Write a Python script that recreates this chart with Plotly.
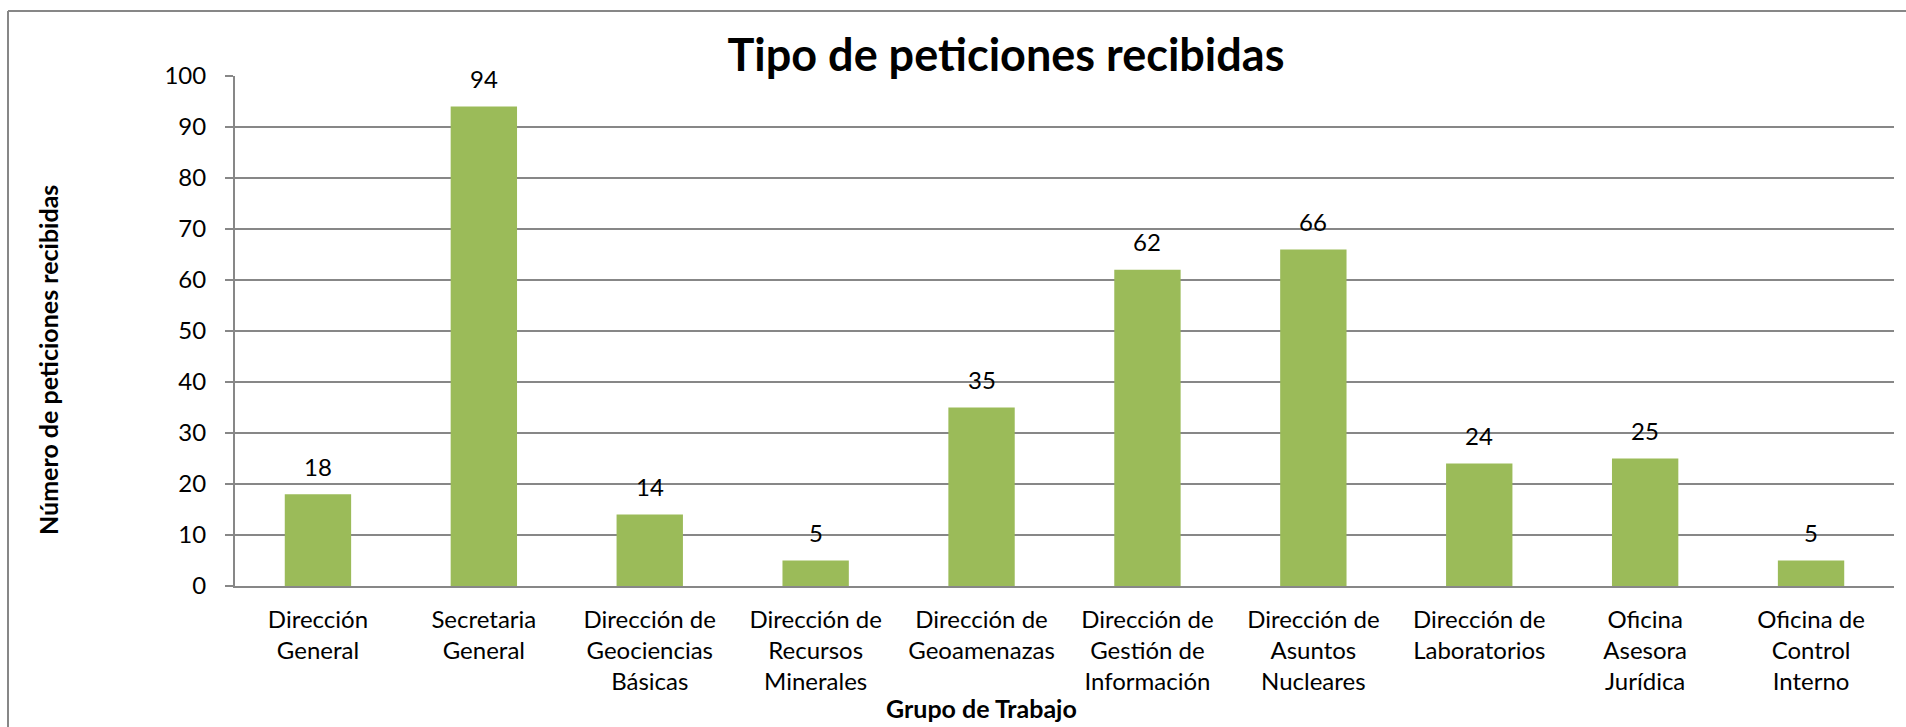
import plotly.graph_objects as go

categories = [
    "Dirección<br>General",
    "Secretaria<br>General",
    "Dirección de<br>Geociencias<br>Básicas",
    "Dirección de<br>Recursos<br>Minerales",
    "Dirección de<br>Geoamenazas",
    "Dirección de<br>Gestión de<br>Información",
    "Dirección de<br>Asuntos<br>Nucleares",
    "Dirección de<br>Laboratorios",
    "Oficina<br>Asesora<br>Jurídica",
    "Oficina de<br>Control<br>Interno",
]
values = [18, 94, 14, 5, 35, 62, 66, 24, 25, 5]
y_ticks = [0, 10, 20, 30, 40, 50, 60, 70, 80, 90, 100]

FONT = "Lato"
GRID = "#878787"
BAR = "#9BBB59"

fig = go.Figure()
fig.add_trace(go.Bar(
    x=categories, y=values, marker=dict(color=BAR, line=dict(width=0)),
    showlegend=False, hoverinfo="skip",
))

annotations = []
for c, v in zip(categories, values):
    annotations.append(dict(
        x=c, y=v, xref="x", yref="y", text=str(v), showarrow=False,
        yanchor="middle", yshift=28, font=dict(family=FONT, size=24, color="black"),
    ))

# axis titles
annotations.append(dict(
    text="<b>Número de peticiones recibidas</b>", textangle=-90,
    xref="paper", yref="paper", x=0, y=0.5, xanchor="center", yanchor="middle",
    xshift=-187, yshift=-(360 - 331), showarrow=False,
    font=dict(family=FONT, size=25, color="black"),
))
annotations.append(dict(
    text="<b>Grupo de Trabajo</b>",
    xref="paper", yref="paper", x=0, y=0, xanchor="center", yanchor="middle",
    xshift=981 - 235, yshift=-(708 - 586), showarrow=False,
    font=dict(family=FONT, size=25, color="black"),
))

shapes = [
    # outer frame: left and top edges only
    dict(type="line", xref="paper", yref="paper", xsizemode="pixel", ysizemode="pixel",
         xanchor=0, yanchor=1, x0=-227, x1=-227, y0=65, y1=-800,
         line=dict(color=GRID, width=2)),
    dict(type="line", xref="paper", yref="paper", xsizemode="pixel", ysizemode="pixel",
         xanchor=0, yanchor=1, x0=-227, x1=1800, y0=65, y1=65,
         line=dict(color=GRID, width=2)),
]

fig.update_layout(
    width=1906, height=727,
    margin=dict(l=235, r=12, t=76, b=141, autoexpand=False),
    paper_bgcolor="white", plot_bgcolor="white",
    bargap=0.6,
    title=dict(
        text="<b>Tipo de peticiones recibidas</b>",
        x=1006 / 1906, xref="container", xanchor="center",
        y=1 - 55 / 727, yref="container", yanchor="middle",
        font=dict(family=FONT, size=45, color="black"),
    ),
    annotations=annotations,
    shapes=shapes,
    xaxis=dict(
        type="category", range=[-0.5, len(categories) - 0.5],
        showline=True, linecolor=GRID, linewidth=2,
        showgrid=False, ticks="", tickangle=0,
        tickfont=dict(family=FONT, size=24, color="black"),
        ticklabelstandoff=11,
    ),
    yaxis=dict(
        range=[0, 100], tickvals=y_ticks,
        showline=True, linecolor=GRID, linewidth=2,
        showgrid=True, gridcolor=GRID, gridwidth=1.5,
        zeroline=False,
        ticks="outside", ticklen=8, tickcolor=GRID, tickwidth=1.5,
        tickfont=dict(family=FONT, size=24, color="black"),
        ticklabelstandoff=14,
    ),
    font=dict(family=FONT, color="black"),
)

fig.write_html(
    "out.html",
    config={"displayModeBar": False},
    post_script="document.body.style.margin='0';document.body.style.overflow='hidden';",
)
